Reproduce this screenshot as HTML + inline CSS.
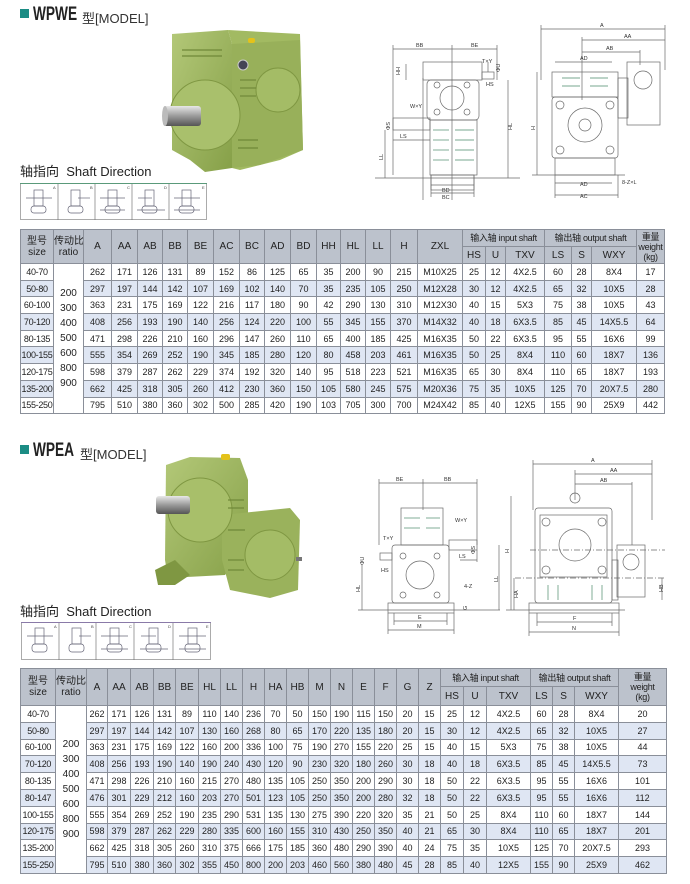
<!DOCTYPE html>
<html><head><meta charset="utf-8">
<style>
*{margin:0;padding:0;box-sizing:border-box}
body{width:690px;height:884px;background:#fff;position:relative;overflow:hidden;font-family:"Liberation Sans","Noto Sans CJK SC",sans-serif;color:#222}
.abs{position:absolute}
.ttl{position:absolute;font-weight:bold;font-size:19px;transform:scaleX(0.72);transform-origin:left top;letter-spacing:0}
.sq{position:absolute;width:9px;height:9px;background:#1b8c84}
.mdl{position:absolute;font-size:13px;color:#333}
.sd{position:absolute;font-size:13px;color:#222}
table{position:absolute;border-collapse:collapse;table-layout:fixed;font-size:9px;color:#222}
td,th{border:1px solid #8a8f99;text-align:center;padding:0;overflow:hidden;white-space:nowrap}
th{background:#bcc2cc;font-weight:normal;font-size:10px;color:#222;line-height:11px}
tr.a td{background:#dfe6f3}
td.r{background:#fff !important;font-size:10px;line-height:15px;vertical-align:middle}
td.s{font-size:9px;letter-spacing:-0.3px}
th.w{font-size:9px;line-height:10px;letter-spacing:-0.3px}
</style></head><body>

<div class="sq" style="left:20px;top:9px"></div>
<div class="ttl" style="left:33px;top:4px">WPWE</div>
<div class="mdl" style="left:82px;top:8px">型[MODEL]</div>
<div class="sd" style="left:20px;top:161px">轴指向&nbsp; Shaft Direction</div>

<div class="sq" style="left:20px;top:445px"></div>
<div class="ttl" style="left:33px;top:440px">WPEA</div>
<div class="mdl" style="left:80px;top:444px">型[MODEL]</div>
<div class="sd" style="left:20px;top:601px">轴指向&nbsp; Shaft Direction</div>

<svg class="abs" style="left:0;top:0" width="690" height="884" viewBox="0 0 690 884">
<defs>
<linearGradient id="g1" x1="0" y1="0" x2="1" y2="1"><stop offset="0" stop-color="#b3c878"/><stop offset="1" stop-color="#86a048"/></linearGradient>
<linearGradient id="sh" x1="0" y1="0" x2="0" y2="1"><stop offset="0" stop-color="#e8e8e8"/><stop offset=".5" stop-color="#9a9a9a"/><stop offset="1" stop-color="#555"/></linearGradient>
</defs>
<g>
<polygon points="172,34 228,30 232,44 232,168 205,172 190,160 172,150" fill="url(#g1)"/>
<polygon points="228,30 300,34 303,150 280,160 240,170 232,168 232,44" fill="#a2ba62"/>
<polygon points="232,44 300,40 303,150 260,165 232,168" fill="#98b05a"/>
<circle cx="205" cy="115" r="35" fill="#a9c06c" stroke="#7f9742" stroke-width="1"/>
<circle cx="278" cy="90" r="22" fill="#a4bc66" stroke="#7f9742"/>
<rect x="248" y="38" width="7" height="5" rx="2" fill="#e4c21a"/>
<circle cx="243" cy="65" r="5" fill="#445" stroke="#ccc"/>
<g stroke="#6f8838" stroke-width="1.2"><line x1="182" y1="50" x2="222" y2="50"/><line x1="182" y1="56" x2="222" y2="56"/><line x1="240" y1="80" x2="256" y2="80"/><line x1="240" y1="88" x2="256" y2="88"/><line x1="240" y1="96" x2="256" y2="96"/><line x1="238" y1="140" x2="258" y2="140"/><line x1="238" y1="148" x2="258" y2="148"/></g>
<rect x="163" y="106" width="38" height="20" rx="3" fill="url(#sh)"/>
<ellipse cx="165" cy="116" rx="3" ry="10" fill="#bbb"/>
</g>
<g>
<polygon points="166,465 190,457 240,458 248,480 248,540 225,575 168,578 165,560" fill="url(#g1)"/>
<polygon points="222,515 290,508 300,520 298,590 270,598 230,590 222,560" fill="#9ab25c"/>
<polygon points="155,570 175,560 190,575 175,585 158,585" fill="#7f9742"/>
<circle cx="200" cy="510" r="32" fill="#a8bf6a" stroke="#7f9742"/>
<circle cx="270" cy="555" r="25" fill="#a4bc66" stroke="#7f9742"/>
<rect x="221" y="454" width="9" height="6" rx="2" fill="#e4c21a"/>
<g stroke="#6f8838" stroke-width="1.2"><line x1="228" y1="500" x2="244" y2="500"/><line x1="228" y1="508" x2="244" y2="508"/><line x1="228" y1="530" x2="245" y2="530"/><line x1="228" y1="560" x2="244" y2="560"/><line x1="228" y1="570" x2="244" y2="570"/></g>
<rect x="156" y="496" width="34" height="18" rx="3" fill="url(#sh)"/>
<rect x="296" y="557" width="6" height="4" fill="#777"/>
</g>

<g stroke="#777" stroke-width=".7" fill="none">
<rect x="20.5" y="183.5" width="186" height="36" stroke="#888"/>
<line x1="58" y1="183" x2="58" y2="220"/><line x1="95" y1="183" x2="95" y2="220"/><line x1="132" y1="183" x2="132" y2="220"/><line x1="169" y1="183" x2="169" y2="220"/>
<line x1="20" y1="183.5" x2="207" y2="183.5" stroke="#5a9a7a" stroke-width="1"/>
</g>
<g stroke="#667" stroke-width=".7" fill="none">
<rect x="34" y="190" width="9" height="16"/><rect x="31" y="206" width="15" height="7" rx="3"/><line x1="26" y1="198" x2="52" y2="198"/>
<rect x="71" y="190" width="9" height="16"/><rect x="68" y="206" width="15" height="7" rx="3"/><line x1="78" y1="198" x2="90" y2="198"/>
<rect x="108" y="190" width="9" height="16"/><rect x="105" y="206" width="15" height="7" rx="3"/><line x1="100" y1="198" x2="125" y2="198"/><line x1="100" y1="210" x2="125" y2="210"/>
<rect x="145" y="190" width="9" height="16"/><rect x="142" y="206" width="15" height="7" rx="3"/><line x1="138" y1="198" x2="152" y2="198"/><line x1="137" y1="210" x2="165" y2="210"/>
<rect x="182" y="190" width="9" height="16"/><rect x="179" y="206" width="15" height="7" rx="3"/><line x1="174" y1="198" x2="200" y2="198"/><line x1="174" y1="210" x2="200" y2="210"/>
</g>
<g font-size="4" fill="#444" font-family="Liberation Sans"><text x="53" y="189">A</text><text x="90" y="189">B</text><text x="127" y="189">C</text><text x="164" y="189">D</text><text x="202" y="189">E</text></g>

<g stroke="#777" stroke-width=".7" fill="none">
<rect x="21.5" y="622.5" width="189" height="37" stroke="#888"/>
<line x1="59" y1="622" x2="59" y2="660"/><line x1="96" y1="622" x2="96" y2="660"/><line x1="134" y1="622" x2="134" y2="660"/><line x1="173" y1="622" x2="173" y2="660"/>
<line x1="21" y1="622.5" x2="211" y2="622.5" stroke="#8a7aa8" stroke-width="1"/>
</g>
<g stroke="#667" stroke-width=".7" fill="none">
<rect x="35" y="628" width="9" height="16"/><rect x="32" y="644" width="15" height="8" rx="3"/><line x1="27" y1="636" x2="53" y2="636"/>
<rect x="72" y="628" width="9" height="16"/><rect x="69" y="644" width="15" height="8" rx="3"/><line x1="79" y1="636" x2="91" y2="636"/>
<rect x="110" y="628" width="9" height="16"/><rect x="107" y="644" width="15" height="8" rx="3"/><line x1="101" y1="636" x2="128" y2="636"/><line x1="101" y1="649" x2="128" y2="649"/>
<rect x="149" y="628" width="9" height="16"/><rect x="146" y="644" width="15" height="8" rx="3"/><line x1="141" y1="636" x2="156" y2="636"/><line x1="140" y1="649" x2="168" y2="649"/>
<rect x="188" y="628" width="9" height="16"/><rect x="185" y="644" width="15" height="8" rx="3"/><line x1="179" y1="636" x2="206" y2="636"/><line x1="179" y1="649" x2="206" y2="649"/>
</g>
<g font-size="4" fill="#444" font-family="Liberation Sans"><text x="54" y="628">A</text><text x="91" y="628">B</text><text x="129" y="628">C</text><text x="168" y="628">D</text><text x="206" y="628">E</text></g>

<g stroke="#6a6a6a" stroke-width=".7" fill="none">
<line x1="393" y1="49" x2="497" y2="49"/><line x1="393" y1="45" x2="393" y2="175"/><line x1="452" y1="45" x2="452" y2="200"/><line x1="497" y1="45" x2="497" y2="80"/>
<rect x="423" y="62" width="59" height="18"/>
<rect x="427" y="80" width="52" height="40" rx="4"/>
<circle cx="452" cy="98" r="12"/><circle cx="437" cy="85" r="3"/><circle cx="467" cy="85" r="3"/><circle cx="437" cy="112" r="3"/><circle cx="467" cy="112" r="3"/>
<rect x="430" y="120" width="47" height="55"/>
<g stroke="#4a8a6a"><line x1="433" y1="130" x2="449" y2="130"/><line x1="455" y1="130" x2="474" y2="130"/><line x1="433" y1="140" x2="449" y2="140"/><line x1="455" y1="140" x2="474" y2="140"/><line x1="433" y1="150" x2="449" y2="150"/><line x1="455" y1="150" x2="474" y2="150"/><line x1="433" y1="160" x2="449" y2="160"/><line x1="455" y1="160" x2="474" y2="160"/></g>
<rect x="431" y="175" width="43" height="15"/>
<rect x="393" y="118" width="37" height="12"/>
<rect x="482" y="72" width="12" height="7"/>
<line x1="423" y1="78" x2="423" y2="200"/>
<line x1="375" y1="178" x2="520" y2="178"/>
<line x1="385" y1="130" x2="385" y2="178"/><line x1="393" y1="140" x2="430" y2="140"/>
<line x1="508" y1="80" x2="508" y2="178"/>
<line x1="431" y1="185" x2="474" y2="185"/><line x1="431" y1="193" x2="474" y2="193"/>
<line x1="431" y1="175" x2="431" y2="197"/><line x1="474" y1="175" x2="474" y2="197"/>
<line x1="406" y1="64" x2="406" y2="80"/><line x1="488" y1="62" x2="488" y2="72"/>
</g>
<g font-size="5.5" fill="#333" font-family="Liberation Sans">
<text x="416" y="47">BB</text><text x="471" y="47">BE</text><text x="410" y="108">W×Y</text><text x="400" y="138">LS</text>
<text x="442" y="192">BD</text><text x="442" y="199">BC</text><text x="482" y="63">T×Y</text><text x="486" y="86">HS</text>
<text x="400" y="75" transform="rotate(-90 400 75)">HH</text><text x="512" y="130" transform="rotate(-90 512 130)">HL</text><text x="383" y="160" transform="rotate(-90 383 160)">LL</text><text x="390" y="130" transform="rotate(-90 390 130)">ΦS</text><text x="500" y="72" transform="rotate(-90 500 72)">ΦU</text>
</g>
<g stroke="#6a6a6a" stroke-width=".7" fill="none">
<line x1="541" y1="29" x2="665" y2="29"/><line x1="582" y1="40" x2="665" y2="40"/><line x1="582" y1="52" x2="640" y2="52"/><line x1="555" y1="62" x2="612" y2="62"/>
<line x1="541" y1="25" x2="541" y2="80"/><line x1="665" y1="25" x2="665" y2="70"/><line x1="582" y1="37" x2="582" y2="100"/><line x1="640" y1="50" x2="640" y2="65"/>
<rect x="552" y="72" width="66" height="25"/>
<rect x="552" y="97" width="66" height="61" rx="3"/>
<circle cx="585" cy="125" r="17"/><circle cx="585" cy="125" r="6"/>
<circle cx="560" cy="105" r="4"/><circle cx="610" cy="105" r="4"/><circle cx="560" cy="150" r="4"/><circle cx="610" cy="150" r="4"/>
<rect x="555" y="158" width="60" height="17"/>
<rect x="618" y="78" width="10" height="40"/>
<rect x="627" y="62" width="33" height="63"/>
<circle cx="643" cy="80" r="9"/>
<line x1="537" y1="72" x2="537" y2="175"/><line x1="532" y1="175" x2="625" y2="175"/>
<line x1="555" y1="183" x2="612" y2="183"/><line x1="555" y1="195" x2="618" y2="195"/>
<line x1="555" y1="175" x2="555" y2="198"/><line x1="618" y1="175" x2="618" y2="198"/>
<g stroke="#4a8a6a"><line x1="562" y1="78" x2="580" y2="78"/><line x1="590" y1="78" x2="608" y2="78"/><line x1="562" y1="86" x2="580" y2="86"/><line x1="590" y1="86" x2="608" y2="86"/></g>
</g>
<g font-size="5.5" fill="#333" font-family="Liberation Sans">
<text x="600" y="27">A</text><text x="624" y="38">AA</text><text x="606" y="50">AB</text><text x="580" y="60">AD</text>
<text x="580" y="186">AD</text><text x="580" y="198">AC</text><text x="622" y="184">8-Z×L</text>
<text x="535" y="130" transform="rotate(-90 535 130)">H</text>
</g>

<g stroke="#6a6a6a" stroke-width=".7" fill="none">
<line x1="379" y1="483" x2="477" y2="483"/><line x1="379" y1="479" x2="379" y2="545"/><line x1="423" y1="479" x2="423" y2="510"/><line x1="477" y1="479" x2="477" y2="545"/>
<rect x="401" y="508" width="42" height="37"/>
<g stroke="#4a8a6a"><line x1="404" y1="518" x2="420" y2="518"/><line x1="426" y1="518" x2="440" y2="518"/><line x1="404" y1="528" x2="420" y2="528"/><line x1="426" y1="528" x2="440" y2="528"/></g>
<rect x="392" y="545" width="57" height="58" rx="3"/>
<circle cx="420" cy="575" r="14"/><circle cx="403" cy="556" r="3"/><circle cx="437" cy="556" r="3"/><circle cx="403" cy="595" r="3"/><circle cx="437" cy="595" r="3"/>
<rect x="388" y="603" width="66" height="10"/>
<rect x="449" y="540" width="28" height="10"/><rect x="380" y="553" width="12" height="7"/>
<line x1="358" y1="610" x2="500" y2="610"/><line x1="362" y1="565" x2="362" y2="610"/><line x1="499" y1="545" x2="499" y2="610"/>
<line x1="394" y1="621" x2="447" y2="621"/><line x1="388" y1="630" x2="454" y2="630"/>
<line x1="394" y1="613" x2="394" y2="625"/><line x1="447" y1="613" x2="447" y2="625"/><line x1="388" y1="613" x2="388" y2="634"/><line x1="454" y1="613" x2="454" y2="634"/>
<line x1="477" y1="550" x2="477" y2="562"/><line x1="460" y1="560" x2="477" y2="560"/>
</g>
<g font-size="5.5" fill="#333" font-family="Liberation Sans">
<text x="396" y="481">BE</text><text x="444" y="481">BB</text><text x="455" y="522">W×Y</text><text x="459" y="558">LS</text>
<text x="418" y="619">E</text><text x="417" y="628">M</text><text x="464" y="588">4-Z</text><text x="381" y="572">HS</text><text x="383" y="540">T×Y</text>
<text x="360" y="592" transform="rotate(-90 360 592)">HL</text><text x="498" y="582" transform="rotate(-90 498 582)">LL</text><text x="475" y="554" transform="rotate(-90 475 554)">ΦS</text><text x="364" y="565" transform="rotate(-90 364 565)">ΦU</text><text x="467" y="610" transform="rotate(-90 467 610)">G</text>
</g>
<g stroke="#6a6a6a" stroke-width=".7" fill="none">
<line x1="533" y1="464" x2="652" y2="464"/><line x1="575" y1="474" x2="652" y2="474"/><line x1="575" y1="484" x2="632" y2="484"/>
<line x1="533" y1="460" x2="533" y2="510"/><line x1="652" y1="460" x2="652" y2="520"/><line x1="575" y1="470" x2="575" y2="500"/><line x1="632" y1="482" x2="632" y2="545"/>
<circle cx="575" cy="498" r="5"/>
<rect x="535" y="508" width="77" height="95" rx="3"/>
<rect x="540" y="515" width="67" height="62"/>
<circle cx="575" cy="545" r="16"/><circle cx="546" cy="522" r="4"/><circle cx="602" cy="522" r="4"/><circle cx="546" cy="570" r="4"/><circle cx="602" cy="570" r="4"/>
<g stroke="#4a8a6a"><line x1="548" y1="585" x2="548" y2="600"/><line x1="558" y1="585" x2="558" y2="600"/><line x1="592" y1="585" x2="592" y2="600"/><line x1="602" y1="585" x2="602" y2="600"/></g>
<rect x="529" y="603" width="90" height="10"/>
<rect x="612" y="560" width="6" height="40"/><rect x="617" y="545" width="28" height="52"/>
<circle cx="631" cy="562" r="8"/>
<line x1="511" y1="496" x2="511" y2="610"/><line x1="506" y1="610" x2="625" y2="610"/>
<line x1="514" y1="578" x2="514" y2="610"/><line x1="662" y1="578" x2="662" y2="600"/>
<line x1="537" y1="622" x2="612" y2="622"/><line x1="529" y1="632" x2="619" y2="632"/>
<line x1="537" y1="613" x2="537" y2="626"/><line x1="612" y1="613" x2="612" y2="626"/><line x1="529" y1="613" x2="529" y2="636"/><line x1="619" y1="613" x2="619" y2="636"/>
<line x1="530" y1="550" x2="665" y2="550" stroke-dasharray="6 2 1 2"/><line x1="515" y1="578" x2="665" y2="578" stroke-dasharray="6 2 1 2"/>
</g>
<g font-size="5.5" fill="#333" font-family="Liberation Sans">
<text x="591" y="462">A</text><text x="610" y="472">AA</text><text x="600" y="482">AB</text>
<text x="573" y="620">F</text><text x="572" y="630">N</text>
<text x="509" y="553" transform="rotate(-90 509 553)">H</text><text x="518" y="598" transform="rotate(-90 518 598)">HA</text><text x="663" y="592" transform="rotate(-90 663 592)">HB</text>
</g>
</svg>

<table style="left:20px;top:229px;width:645px">
<colgroup>
<col style="width:33px"><col style="width:30px"><col style="width:28px"><col style="width:26px"><col style="width:25px"><col style="width:25px"><col style="width:26px"><col style="width:26px"><col style="width:25px"><col style="width:26px"><col style="width:26px"><col style="width:24px"><col style="width:25px"><col style="width:25px"><col style="width:27px"><col style="width:45px"><col style="width:23px"><col style="width:20px"><col style="width:39px"><col style="width:27px"><col style="width:20px"><col style="width:45px"><col style="width:28px">
</colgroup>
<tr style="height:17px"><th rowspan="2">型号<br>size</th><th rowspan="2">传动比<br>ratio</th><th rowspan="2">A</th><th rowspan="2">AA</th><th rowspan="2">AB</th><th rowspan="2">BB</th><th rowspan="2">BE</th><th rowspan="2">AC</th><th rowspan="2">BC</th><th rowspan="2">AD</th><th rowspan="2">BD</th><th rowspan="2">HH</th><th rowspan="2">HL</th><th rowspan="2">LL</th><th rowspan="2">H</th><th rowspan="2">ZXL</th><th colspan="3" class="w">输入轴 input shaft</th><th colspan="3" class="w">输出轴 output shaft</th><th rowspan="2" class="w">重量<br>weight<br>(kg)</th></tr>
<tr style="height:17px"><th>HS</th><th>U</th><th>TXV</th><th>LS</th><th>S</th><th>WXY</th></tr>
<tr style="height:16.7px"><td class="s">40-70</td><td class="r" rowspan="9">200<br>300<br>400<br>500<br>600<br>800<br>900</td><td>262</td><td>171</td><td>126</td><td>131</td><td>89</td><td>152</td><td>86</td><td>125</td><td>65</td><td>35</td><td>200</td><td>90</td><td>215</td><td>M10X25</td><td>25</td><td>12</td><td>4X2.5</td><td>60</td><td>28</td><td>8X4</td><td>17</td></tr>
<tr class="a" style="height:16.7px"><td class="s">50-80</td><td>297</td><td>197</td><td>144</td><td>142</td><td>107</td><td>169</td><td>102</td><td>140</td><td>70</td><td>35</td><td>235</td><td>105</td><td>250</td><td>M12X28</td><td>30</td><td>12</td><td>4X2.5</td><td>65</td><td>32</td><td>10X5</td><td>28</td></tr>
<tr style="height:16.7px"><td class="s">60-100</td><td>363</td><td>231</td><td>175</td><td>169</td><td>122</td><td>216</td><td>117</td><td>180</td><td>90</td><td>42</td><td>290</td><td>130</td><td>310</td><td>M12X30</td><td>40</td><td>15</td><td>5X3</td><td>75</td><td>38</td><td>10X5</td><td>43</td></tr>
<tr class="a" style="height:16.7px"><td class="s">70-120</td><td>408</td><td>256</td><td>193</td><td>190</td><td>140</td><td>256</td><td>124</td><td>220</td><td>100</td><td>55</td><td>345</td><td>155</td><td>370</td><td>M14X32</td><td>40</td><td>18</td><td>6X3.5</td><td>85</td><td>45</td><td>14X5.5</td><td>64</td></tr>
<tr style="height:16.7px"><td class="s">80-135</td><td>471</td><td>298</td><td>226</td><td>210</td><td>160</td><td>296</td><td>147</td><td>260</td><td>110</td><td>65</td><td>400</td><td>185</td><td>425</td><td>M16X35</td><td>50</td><td>22</td><td>6X3.5</td><td>95</td><td>55</td><td>16X6</td><td>99</td></tr>
<tr class="a" style="height:16.7px"><td class="s">100-155</td><td>555</td><td>354</td><td>269</td><td>252</td><td>190</td><td>345</td><td>185</td><td>280</td><td>120</td><td>80</td><td>458</td><td>203</td><td>461</td><td>M16X35</td><td>50</td><td>25</td><td>8X4</td><td>110</td><td>60</td><td>18X7</td><td>136</td></tr>
<tr style="height:16.7px"><td class="s">120-175</td><td>598</td><td>379</td><td>287</td><td>262</td><td>229</td><td>374</td><td>192</td><td>320</td><td>140</td><td>95</td><td>518</td><td>223</td><td>521</td><td>M16X35</td><td>65</td><td>30</td><td>8X4</td><td>110</td><td>65</td><td>18X7</td><td>193</td></tr>
<tr class="a" style="height:16.7px"><td class="s">135-200</td><td>662</td><td>425</td><td>318</td><td>305</td><td>260</td><td>412</td><td>230</td><td>360</td><td>150</td><td>105</td><td>580</td><td>245</td><td>575</td><td>M20X36</td><td>75</td><td>35</td><td>10X5</td><td>125</td><td>70</td><td>20X7.5</td><td>280</td></tr>
<tr style="height:16.7px"><td class="s">155-250</td><td>795</td><td>510</td><td>380</td><td>360</td><td>302</td><td>500</td><td>285</td><td>420</td><td>190</td><td>103</td><td>705</td><td>300</td><td>700</td><td>M24X42</td><td>85</td><td>40</td><td>12X5</td><td>155</td><td>90</td><td>25X9</td><td>442</td></tr>
</table>

<table style="left:20px;top:668px;width:646px">
<colgroup>
<col style="width:35px"><col style="width:31px"><col style="width:21px"><col style="width:23px"><col style="width:23px"><col style="width:22px"><col style="width:23px"><col style="width:22px"><col style="width:22px"><col style="width:22px"><col style="width:22px"><col style="width:22px"><col style="width:22px"><col style="width:22px"><col style="width:22px"><col style="width:22px"><col style="width:22px"><col style="width:22px"><col style="width:23px"><col style="width:23px"><col style="width:44px"><col style="width:22px"><col style="width:22px"><col style="width:44px"><col style="width:48px">
</colgroup>
<tr style="height:18px"><th rowspan="2">型号<br>size</th><th rowspan="2">传动比<br>ratio</th><th rowspan="2">A</th><th rowspan="2">AA</th><th rowspan="2">AB</th><th rowspan="2">BB</th><th rowspan="2">BE</th><th rowspan="2">HL</th><th rowspan="2">LL</th><th rowspan="2">H</th><th rowspan="2">HA</th><th rowspan="2">HB</th><th rowspan="2">M</th><th rowspan="2">N</th><th rowspan="2">E</th><th rowspan="2">F</th><th rowspan="2">G</th><th rowspan="2">Z</th><th colspan="3" class="w">输入轴 input shaft</th><th colspan="3" class="w">输出轴 output shaft</th><th rowspan="2" class="w">重量<br>weight<br>(kg)</th></tr>
<tr style="height:19px"><th>HS</th><th>U</th><th>TXV</th><th>LS</th><th>S</th><th>WXY</th></tr>
<tr style="height:16.8px"><td class="s">40-70</td><td class="r" rowspan="10">200<br>300<br>400<br>500<br>600<br>800<br>900</td><td>262</td><td>171</td><td>126</td><td>131</td><td>89</td><td>110</td><td>140</td><td>236</td><td>70</td><td>50</td><td>150</td><td>190</td><td>115</td><td>150</td><td>20</td><td>15</td><td>25</td><td>12</td><td>4X2.5</td><td>60</td><td>28</td><td>8X4</td><td>20</td></tr>
<tr class="a" style="height:16.8px"><td class="s">50-80</td><td>297</td><td>197</td><td>144</td><td>142</td><td>107</td><td>130</td><td>160</td><td>268</td><td>80</td><td>65</td><td>170</td><td>220</td><td>135</td><td>180</td><td>20</td><td>15</td><td>30</td><td>12</td><td>4X2.5</td><td>65</td><td>32</td><td>10X5</td><td>27</td></tr>
<tr style="height:16.8px"><td class="s">60-100</td><td>363</td><td>231</td><td>175</td><td>169</td><td>122</td><td>160</td><td>200</td><td>336</td><td>100</td><td>75</td><td>190</td><td>270</td><td>155</td><td>220</td><td>25</td><td>15</td><td>40</td><td>15</td><td>5X3</td><td>75</td><td>38</td><td>10X5</td><td>44</td></tr>
<tr class="a" style="height:16.8px"><td class="s">70-120</td><td>408</td><td>256</td><td>193</td><td>190</td><td>140</td><td>190</td><td>240</td><td>430</td><td>120</td><td>90</td><td>230</td><td>320</td><td>180</td><td>260</td><td>30</td><td>18</td><td>40</td><td>18</td><td>6X3.5</td><td>85</td><td>45</td><td>14X5.5</td><td>73</td></tr>
<tr style="height:16.8px"><td class="s">80-135</td><td>471</td><td>298</td><td>226</td><td>210</td><td>160</td><td>215</td><td>270</td><td>480</td><td>135</td><td>105</td><td>250</td><td>350</td><td>200</td><td>290</td><td>30</td><td>18</td><td>50</td><td>22</td><td>6X3.5</td><td>95</td><td>55</td><td>16X6</td><td>101</td></tr>
<tr class="a" style="height:16.8px"><td class="s">80-147</td><td>476</td><td>301</td><td>229</td><td>212</td><td>160</td><td>203</td><td>270</td><td>501</td><td>123</td><td>105</td><td>250</td><td>350</td><td>200</td><td>280</td><td>32</td><td>18</td><td>50</td><td>22</td><td>6X3.5</td><td>95</td><td>55</td><td>16X6</td><td>112</td></tr>
<tr style="height:16.8px"><td class="s">100-155</td><td>555</td><td>354</td><td>269</td><td>252</td><td>190</td><td>235</td><td>290</td><td>531</td><td>135</td><td>130</td><td>275</td><td>390</td><td>220</td><td>320</td><td>35</td><td>21</td><td>50</td><td>25</td><td>8X4</td><td>110</td><td>60</td><td>18X7</td><td>144</td></tr>
<tr class="a" style="height:16.8px"><td class="s">120-175</td><td>598</td><td>379</td><td>287</td><td>262</td><td>229</td><td>280</td><td>335</td><td>600</td><td>160</td><td>155</td><td>310</td><td>430</td><td>250</td><td>350</td><td>40</td><td>21</td><td>65</td><td>30</td><td>8X4</td><td>110</td><td>65</td><td>18X7</td><td>201</td></tr>
<tr style="height:16.8px"><td class="s">135-200</td><td>662</td><td>425</td><td>318</td><td>305</td><td>260</td><td>310</td><td>375</td><td>666</td><td>175</td><td>185</td><td>360</td><td>480</td><td>290</td><td>390</td><td>40</td><td>24</td><td>75</td><td>35</td><td>10X5</td><td>125</td><td>70</td><td>20X7.5</td><td>293</td></tr>
<tr class="a" style="height:16.8px"><td class="s">155-250</td><td>795</td><td>510</td><td>380</td><td>360</td><td>302</td><td>355</td><td>450</td><td>800</td><td>200</td><td>203</td><td>460</td><td>560</td><td>380</td><td>480</td><td>45</td><td>28</td><td>85</td><td>40</td><td>12X5</td><td>155</td><td>90</td><td>25X9</td><td>462</td></tr>
</table>
</body></html>
